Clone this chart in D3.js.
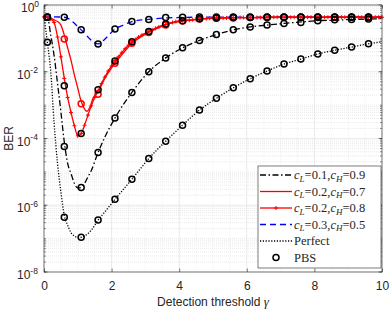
<!DOCTYPE html>
<html>
<head>
<meta charset="utf-8">
<script src="https://cdn.jsdelivr.net/npm/d3@7"></script>
<style>
	body { margin: 0; background: #fff; }
	svg { display: block; }
	text { fill: #262626; }
</style>
</head>
<body>
<svg id="chart" width="391" height="311"></svg>
<script>
// PBS simulation points
var gammaPBS = [0.1, 0.6, 1.1, 1.6, 2.1, 2.6, 3.1, 3.6, 4.1, 4.6, 5.1, 5.6, 6.1, 6.6, 7.1, 7.6, 8.1, 8.6, 9.1, 9.6];
var pbsBlack = [0.43, 5.8e-5, 3.4e-6, 3.8e-5, 4.1e-4, 2.4e-3, 0.010, 0.026, 0.052, 0.087, 0.13, 0.18, 0.22, 0.25, 0.28, 0.30, 0.34, 0.36, 0.37, 0.38];
var pbsRed = [0.43, 0.095, 1.1e-3, 2.1e-3, 0.018, 0.071, 0.15, 0.25, 0.33, 0.38, 0.40, 0.41, 0.42, 0.42, 0.43, 0.43, 0.43, 0.43, 0.43, 0.43];
var pbsRedPlus = [0.43, 3.8e-3, 1.4e-4, 2.9e-3, 0.021, 0.079, 0.16, 0.27, 0.34, 0.39, 0.41, 0.42, 0.42, 0.43, 0.43, 0.43, 0.43, 0.43, 0.43, 0.43];
var pbsBlue = [0.44, 0.43, 0.18, 0.068, 0.19, 0.32, 0.37, 0.42, 0.43, 0.44, 0.44, 0.44, 0.44, 0.44, 0.44, 0.44, 0.44, 0.44, 0.44, 0.44];
var pbsPerfect = [0.076, 4.4e-7, 1.1e-7, 3.6e-7, 1.5e-6, 6.0e-6, 2.5e-5, 8.3e-5, 2.5e-4, 7.1e-4, 1.6e-3, 3.3e-3, 6.2e-3, 0.0105, 0.017, 0.024, 0.034, 0.044, 0.055, 0.069];

// analytical curves
var gammaBlack = [0, 0.1, 0.2, 0.3, 0.4, 0.5, 0.6, 0.7, 0.8, 0.9, 1.0, 1.1, 1.2, 1.3, 1.4, 1.6, 1.8, 2.1, 2.6, 3.1, 3.6, 4.1, 4.6, 5.1, 5.6, 6.1, 6.6, 7.1, 7.6, 8.1, 8.6, 9.1, 9.6, 10];
var berBlack = [0.44, 0.43, 0.126, 0.030, 4.5e-3, 6.3e-4, 7.9e-5, 1.8e-5, 8.9e-6, 4.5e-6, 3.3e-6, 3.4e-6, 4.5e-6, 7.1e-6, 1.1e-5, 3.8e-5, 1.1e-4, 4.1e-4, 2.4e-3, 0.010, 0.026, 0.052, 0.087, 0.13, 0.18, 0.22, 0.25, 0.28, 0.31, 0.34, 0.35, 0.37, 0.38, 0.39];

var gammaRed = [0, 0.1, 0.2, 0.3, 0.4, 0.5, 0.6, 0.7, 0.8, 0.9, 1.0, 1.1, 1.2, 1.27, 1.35, 1.45, 1.6, 1.8, 2.0, 2.2, 2.4, 2.6, 2.8, 3.1, 3.6, 4.1, 4.6, 5, 6, 7, 8, 10];
var berRed = [0.44, 0.43, 0.40, 0.36, 0.32, 0.25, 0.126, 0.052, 0.022, 0.0079, 0.0032, 0.0013, 7.6e-4, 6.5e-4, 8.3e-4, 1.6e-3, 2.5e-3, 6.3e-3, 0.013, 0.024, 0.042, 0.071, 0.10, 0.15, 0.26, 0.33, 0.38, 0.40, 0.42, 0.43, 0.43, 0.43];

var gammaRedPlus = [0, 0.1, 0.2, 0.3, 0.4, 0.5, 0.6, 0.7, 0.8, 0.9, 1.0, 1.1, 1.2, 1.3, 1.4, 1.5, 1.6, 1.7, 1.8, 1.9,
	2.0, 2.1, 2.2, 2.3, 2.4, 2.5, 2.6, 2.7, 2.8, 2.9, 3.0, 3.1, 3.2, 3.3, 3.4, 3.5, 3.6, 3.7, 3.8, 3.9,
	4.0, 4.1, 4.2, 4.3, 4.4, 4.5, 4.6, 4.7, 4.8, 4.9, 5.0, 5.1, 5.2, 5.3, 5.4, 5.5, 5.6, 5.7, 5.8, 5.9,
	6.0, 6.1, 6.2, 6.3, 6.4, 6.5, 6.6, 6.7, 6.8, 6.9, 7.0, 7.1, 7.2, 7.3, 7.4, 7.5, 7.6, 7.7, 7.8, 7.9,
	8.0, 8.1, 8.2, 8.3, 8.4, 8.5, 8.6, 8.7, 8.8, 8.9, 9.0, 9.1, 9.2, 9.3, 9.4, 9.5, 9.6, 9.7, 9.8, 9.9, 10];
var berRedPlus = [0.44, 0.43, 0.38, 0.30, 0.11, 0.028, 0.0063, 0.0017, 6.0e-4, 2.4e-4, 1.2e-4, 1.4e-4, 2.5e-4, 5.0e-4, 9.5e-4, 1.7e-3, 2.7e-3, 4.4e-3, 6.9e-3, 0.0105,
	0.015, 0.021, 0.028, 0.037, 0.049, 0.063, 0.078, 0.093, 0.11, 0.126, 0.14, 0.16, 0.18, 0.20, 0.22, 0.24, 0.26, 0.28, 0.30, 0.32,
	0.33, 0.34, 0.35, 0.35, 0.36, 0.37, 0.38, 0.39, 0.39, 0.40, 0.40, 0.41, 0.41, 0.41, 0.41, 0.41, 0.42, 0.42, 0.42, 0.42,
	0.42, 0.42, 0.42, 0.42, 0.42, 0.42, 0.43, 0.43, 0.43, 0.43, 0.43, 0.43, 0.43, 0.43, 0.43, 0.43, 0.43, 0.43, 0.43, 0.43,
	0.43, 0.43, 0.43, 0.43, 0.43, 0.43, 0.43, 0.43, 0.43, 0.43, 0.43, 0.43, 0.43, 0.43, 0.43, 0.43, 0.43, 0.43, 0.43, 0.43, 0.43];

var gammaBlue = [0, 0.3, 0.6, 0.8, 0.95, 1.1, 1.3, 1.45, 1.6, 1.75, 1.9, 2.1, 2.35, 2.6, 3.1, 3.6, 4.5, 10];
var berBlue = [0.44, 0.44, 0.43, 0.35, 0.25, 0.18, 0.11, 0.079, 0.068, 0.085, 0.12, 0.19, 0.25, 0.32, 0.37, 0.41, 0.43, 0.44];

var gammaPerfect = [0, 0.1, 0.2, 0.3, 0.4, 0.5, 0.6, 0.7, 0.8, 0.9, 1.0, 1.1, 1.2, 1.4, 1.6, 1.8, 2.1, 2.6, 3.1, 3.6, 4.1, 4.6, 5.1, 5.6, 6.1, 6.6, 7.1, 7.6, 8.1, 8.6, 9.1, 9.6, 10];
var berPerfect = [0.44, 0.076, 0.010, 2.8e-4, 1.8e-5, 2.5e-6, 5.0e-7, 2.5e-7, 1.5e-7, 1.2e-7, 1.07e-7, 1.1e-7, 1.2e-7, 1.8e-7, 3.6e-7, 6.3e-7, 1.5e-6, 6.0e-6, 2.5e-5, 8.3e-5, 2.5e-4, 7.1e-4, 1.6e-3, 3.3e-3, 6.2e-3, 0.0105, 0.017, 0.024, 0.034, 0.044, 0.055, 0.069, 0.079];

var xTicks = [0, 2, 4, 6, 8, 10];
var yTickExps = [0, -2, -4, -6, -8];
var legendLabels = [['0.1', '0.9'], ['0.2', '0.7'], ['0.2', '0.8'], ['0.3', '0.5']];

var margin = {left: 44, right: 9, top: 5, bottom: 39};
var width = 391, height = 311;
var svg = d3.select('#chart');
var axisColor = '#262626';
var sans = 'Liberation Sans, Arial, sans-serif';
var serif = 'Liberation Serif, serif';

var x = d3.scaleLinear().domain([0, 10]).range([margin.left, width - margin.right]);
var y = d3.scaleLog().domain([1e-8, 1]).range([height - margin.bottom, margin.top]);

var x0 = x.range()[0], x1 = x.range()[1];
var y0 = y.range()[0], y1 = y.range()[1];

// grid
var grid = svg.append('g');
var minorX = d3.range(0, 10.01, 0.5).filter(function (d) { return d % 2 !== 0; });
grid.selectAll('.mx').data(minorX).enter().append('line')
	.attr('x1', function (d) { return x(d); }).attr('x2', function (d) { return x(d); })
	.attr('y1', y1).attr('y2', y0)
	.attr('stroke', '#e4e4e4').attr('stroke-width', 0.5).attr('stroke-dasharray', '1,1');

var minorY = [];
for (var e = -8; e < 0; e++) {
	for (var m = 2; m <= 9; m++) minorY.push(m * Math.pow(10, e));
	if (e % 2 !== 0) minorY.push(Math.pow(10, e));
}
grid.selectAll('.my').data(minorY).enter().append('line')
	.attr('x1', x0).attr('x2', x1)
	.attr('y1', function (d) { return y(d); }).attr('y2', function (d) { return y(d); })
	.attr('stroke', '#d4d4d4').attr('stroke-width', 0.5).attr('stroke-dasharray', '1,1');

grid.selectAll('.gx').data(xTicks).enter().append('line')
	.attr('x1', function (d) { return x(d); }).attr('x2', function (d) { return x(d); })
	.attr('y1', y1).attr('y2', y0)
	.attr('stroke', '#dcdcdc').attr('stroke-width', 0.6);
grid.selectAll('.gy').data(yTickExps).enter().append('line')
	.attr('x1', x0).attr('x2', x1)
	.attr('y1', function (d) { return y(Math.pow(10, d)); }).attr('y2', function (d) { return y(Math.pow(10, d)); })
	.attr('stroke', '#dcdcdc').attr('stroke-width', 0.6);

// curves
var plot = svg.append('g');
function zip(g, v) {
	return g.map(function (d, i) { return [d, v[i]]; });
}
var line = d3.line()
	.x(function (d) { return x(d[0]); })
	.y(function (d) { return y(d[1]); })
	.curve(d3.curveMonotoneX);

function drawCurve(g, v, color, dash) {
	plot.append('path')
		.attr('d', line(zip(g, v)))
		.attr('fill', 'none')
		.attr('stroke', color)
		.attr('stroke-width', 1.3)
		.attr('stroke-dasharray', dash);
}

drawCurve(gammaPerfect, berPerfect, '#000', '1.2,1.6');
drawCurve(gammaBlack, berBlack, '#000', '6,2.5,1.5,2.5');
drawCurve(gammaBlue, berBlue, '#0000ff', '6,4');
drawCurve(gammaRed, berRed, '#ff0000', null);
drawCurve(gammaRedPlus, berRedPlus, '#ff0000', null);

// + markers on the cL=0.2,cH=0.8 curve
plot.selectAll('.plus').data(zip(gammaRedPlus, berRedPlus)).enter().append('path')
	.attr('d', function (d) {
		var px = x(d[0]), py = y(d[1]);
		return 'M' + (px - 2) + ',' + py + 'H' + (px + 2) + 'M' + px + ',' + (py - 2) + 'V' + (py + 2);
	})
	.attr('stroke', '#ff0000').attr('stroke-width', 1);

function drawPBS(v, color) {
	plot.selectAll(null).data(zip(gammaPBS, v)).enter().append('circle')
		.attr('cx', function (d) { return x(d[0]); })
		.attr('cy', function (d) { return y(d[1]); })
		.attr('r', 3)
		.attr('fill', 'none')
		.attr('stroke', color)
		.attr('stroke-width', 1.5);
}
drawPBS(pbsRed, '#ff0000');
drawPBS(pbsPerfect, '#000');
drawPBS(pbsBlack, '#000');
drawPBS(pbsRedPlus, '#000');
drawPBS(pbsBlue, '#000');

// axes box
var axes = svg.append('g');
axes.append('rect')
	.attr('x', x0).attr('y', y1).attr('width', x1 - x0).attr('height', y0 - y1)
	.attr('fill', 'none').attr('stroke', axisColor).attr('stroke-width', 0.6);

var xAxisB = d3.axisBottom(x).tickValues(xTicks).tickSizeInner(-3.5).tickSizeOuter(0).tickPadding(9);
axes.append('g').attr('transform', 'translate(0,' + y0 + ')').call(xAxisB)
	.call(function (g) {
		g.select('.domain').remove();
		g.selectAll('line').attr('stroke', axisColor).attr('stroke-width', 0.6);
		g.selectAll('text').attr('font-family', sans).attr('font-size', 12).attr('fill', axisColor);
	});
var xAxisT = d3.axisTop(x).tickValues(xTicks).tickSizeInner(-3.5).tickSizeOuter(0).tickFormat('');
axes.append('g').attr('transform', 'translate(0,' + y1 + ')').call(xAxisT)
	.call(function (g) {
		g.select('.domain').remove();
		g.selectAll('line').attr('stroke', axisColor).attr('stroke-width', 0.6);
	});

var yMinor = [];
for (var e2 = -8; e2 < 0; e2++) {
	for (var m2 = 1; m2 <= 9; m2++) yMinor.push(m2 * Math.pow(10, e2));
}
[[x0, 1], [x1, -1]].forEach(function (s) {
	axes.selectAll(null).data(yMinor).enter().append('line')
		.attr('x1', s[0]).attr('x2', s[0] + s[1] * 2)
		.attr('y1', function (d) { return y(d); }).attr('y2', function (d) { return y(d); })
		.attr('stroke', axisColor).attr('stroke-width', 0.5);
	axes.selectAll(null).data(yTickExps).enter().append('line')
		.attr('x1', s[0]).attr('x2', s[0] + s[1] * 3.5)
		.attr('y1', function (d) { return y(Math.pow(10, d)); }).attr('y2', function (d) { return y(Math.pow(10, d)); })
		.attr('stroke', axisColor).attr('stroke-width', 0.6);
});

// y tick labels: 10 with superscript exponent
var yLabels = axes.selectAll('.ylab').data(yTickExps).enter().append('text')
	.attr('x', function (d) { return d === 0 ? 21 : 17; })
	.attr('y', function (d) { return y(Math.pow(10, d)) + 7; })
	.attr('font-family', sans)
	.attr('font-size', 12);
yLabels.append('tspan').text('10');
yLabels.append('tspan').attr('dy', -5.5).attr('font-size', 8.5)
	.text(function (d) { return d === 0 ? '0' : '-' + Math.abs(d); });

svg.append('text')
	.attr('x', (x0 + x1) / 2).attr('y', 306)
	.attr('text-anchor', 'middle')
	.attr('font-family', sans)
	.attr('font-size', 12)
	.call(function (t) {
		t.append('tspan').text('Detection threshold ');
		t.append('tspan').attr('font-family', serif).attr('font-style', 'italic').attr('font-size', 13).text('γ');
	});

svg.append('text')
	.attr('transform', 'translate(13,' + ((y0 + y1) / 2) + ') rotate(-90)')
	.attr('text-anchor', 'middle')
	.attr('font-family', sans)
	.attr('font-size', 12)
	.text('BER');

// legend
var legend = svg.append('g');
legend.append('rect')
	.attr('x', 258).attr('y', 166).attr('width', 123).attr('height', 102)
	.attr('fill', '#fff').attr('stroke', axisColor).attr('stroke-width', 0.6);

var legendStyles = [
	{color: '#000', dash: '6,2.5,1.5,2.5'},
	{color: '#ff0000', dash: null},
	{color: '#ff0000', dash: null, plus: true},
	{color: '#0000ff', dash: '6,4'},
	{color: '#000', dash: '1.2,1.6'}
];
var rowY = function (i) { return 175 + i * 16.5; };
var lx0 = 260, lx1 = 292, tx = 294;

legendStyles.forEach(function (s, i) {
	legend.append('line')
		.attr('x1', lx0).attr('x2', lx1).attr('y1', rowY(i)).attr('y2', rowY(i))
		.attr('stroke', s.color).attr('stroke-width', 1.3).attr('stroke-dasharray', s.dash);
	if (s.plus) {
		var cx = (lx0 + lx1) / 2, cy = rowY(i);
		legend.append('path')
			.attr('d', 'M' + (cx - 2) + ',' + cy + 'H' + (cx + 2) + 'M' + cx + ',' + (cy - 2) + 'V' + (cy + 2))
			.attr('stroke', s.color).attr('stroke-width', 1);
	}
});
legend.append('circle')
	.attr('cx', (lx0 + lx1) / 2).attr('cy', rowY(5)).attr('r', 3)
	.attr('fill', 'none').attr('stroke', '#000').attr('stroke-width', 1.5);

legendLabels.forEach(function (p, i) {
	var t = legend.append('text')
		.attr('x', tx).attr('y', rowY(i) + 4)
		.attr('font-family', serif)
		.attr('font-size', 12.5);
	t.append('tspan').attr('font-style', 'italic').text('c');
	t.append('tspan').attr('font-style', 'italic').attr('font-size', 9).attr('dy', 2.5).text('L');
	t.append('tspan').attr('dy', -2.5).text('=' + p[0] + ',');
	t.append('tspan').attr('font-style', 'italic').text('c');
	t.append('tspan').attr('font-style', 'italic').attr('font-size', 9).attr('dy', 2.5).text('H');
	t.append('tspan').attr('dy', -2.5).text('=' + p[1]);
});
['Perfect', 'PBS'].forEach(function (s, i) {
	legend.append('text')
		.attr('x', tx).attr('y', rowY(4 + i) + 4)
		.attr('font-family', serif)
		.attr('font-size', 12.5)
		.text(s);
});
</script>
</body>
</html>
